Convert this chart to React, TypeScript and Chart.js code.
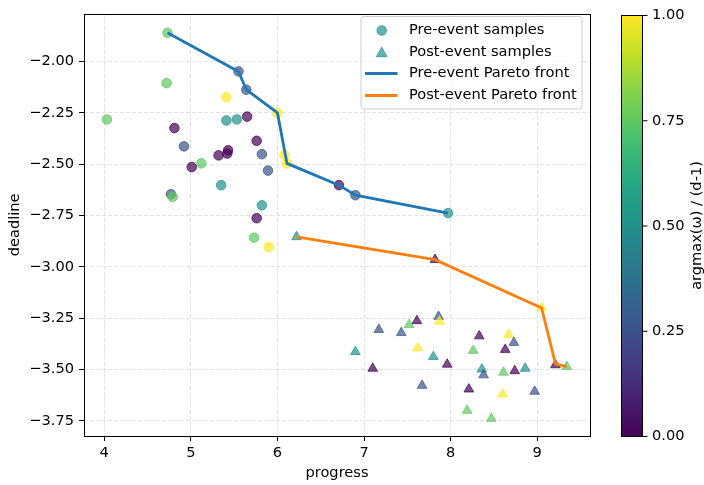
import React, { useEffect, useRef } from 'react';
import { Chart, registerables } from 'chart.js';

Chart.register(...registerables);

// ---------- data ----------
const xTicks = [4, 5, 6, 7, 8, 9];
const yTicks = [-2.0, -2.25, -2.5, -2.75, -3.0, -3.25, -3.5, -3.75];
const cbTicks = [0, 0.25, 0.5, 0.75, 1.0];

const preX = [4.73, 4.72, 4.03, 5.41, 4.81, 5.41, 5.53, 5.65, 5.76, 4.92, 5.43, 5.42, 5.32, 5.82, 5.12, 5.01, 5.89, 5.35, 4.77, 4.79, 5.82, 5.76, 5.73, 5.90, 6.00, 6.08, 6.11, 6.71, 6.90, 5.55, 5.64, 7.97];
const preY = [-1.860, -2.105, -2.282, -2.174, -2.324, -2.287, -2.282, -2.268, -2.386, -2.413, -2.432, -2.448, -2.457, -2.451, -2.496, -2.514, -2.531, -2.602, -2.646, -2.659, -2.700, -2.763, -2.858, -2.903, -2.250, -2.456, -2.496, -2.602, -2.651, -2.048, -2.137, -2.738];
const preC = [0.75, 0.75, 0.75, 1, 0, 0.5, 0.5, 0, 0, 0.25, 0, 0, 0, 0.25, 0.75, 0, 0.25, 0.5, 0.25, 0.75, 0.5, 0, 0.75, 1, 1, 1, 1, 0, 0.25, 0.25, 0.25, 0.5];

const postX = [6.22, 7.82, 6.90, 7.17, 7.10, 7.43, 7.52, 7.61, 7.62, 7.67, 7.80, 7.86, 7.87, 7.96, 8.33, 8.26, 8.21, 8.19, 8.36, 8.38, 8.47, 8.61, 8.60, 8.67, 8.63, 8.73, 8.74, 8.86, 8.97, 9.05, 9.21, 9.34];
const postY = [-2.854, -2.965, -3.414, -3.306, -3.495, -3.321, -3.282, -3.263, -3.395, -3.578, -3.438, -3.242, -3.266, -3.475, -3.337, -3.408, -3.596, -3.700, -3.499, -3.527, -3.739, -3.514, -3.620, -3.330, -3.403, -3.369, -3.507, -3.495, -3.607, -3.200, -3.478, -3.486];
const postC = [0.5, 0, 0.5, 0.25, 0, 0.25, 0.75, 0, 1, 0.25, 0.5, 0.25, 1, 0, 0, 0.75, 0, 0.75, 0.5, 0.25, 0.75, 0.75, 1, 1, 0, 0.25, 0, 0.5, 0.25, 1, 0, 0.75];

const preFrontX = [4.73, 5.55, 5.64, 6.00, 6.11, 6.71, 6.90, 7.97];
const preFrontY = [-1.860, -2.048, -2.137, -2.250, -2.496, -2.602, -2.651, -2.738];
const postFrontX = [6.22, 7.82, 9.05, 9.21, 9.34];
const postFrontY = [-2.854, -2.965, -3.200, -3.473, -3.486];

const legendLabels = ['Pre-event samples', 'Post-event samples', 'Pre-event Pareto front', 'Post-event Pareto front'];

// ---------- styling helpers ----------
const FONT = '"DejaVu Sans", "Liberation Sans", sans-serif';
const FS = 14.6;
const VIRIDIS = ['#440154', '#482475', '#414487', '#355f8d', '#2a788e', '#21918c', '#22a884', '#44bf70', '#7ad151', '#bddf26', '#fde725'];

function hexToRgb(h: string) {
  return [parseInt(h.slice(1, 3), 16), parseInt(h.slice(3, 5), 16), parseInt(h.slice(5, 7), 16)];
}
function viridis(t: number, a = 1) {
  const v = Math.max(0, Math.min(1, t)) * (VIRIDIS.length - 1);
  const i = Math.min(Math.floor(v), VIRIDIS.length - 2);
  const f = v - i;
  const c0 = hexToRgb(VIRIDIS[i]);
  const c1 = hexToRgb(VIRIDIS[i + 1]);
  const c = c0.map((c, k) => Math.round(c + (c1[k] - c) * f));
  return `rgba(${c[0]},${c[1]},${c[2]},${a})`;
}
const fmt = (v: number) => (v < 0 ? '\u2212' : '') + Math.abs(v).toFixed(2);

const overlayPlugin = {
  id: 'overlay',
  afterDraw(chart: any) {
    const ctx = chart.ctx as CanvasRenderingContext2D;
    const ca = chart.chartArea;
    ctx.save();
    // frame (spines)
    ctx.strokeStyle = '#000';
    ctx.lineWidth = 1;
    ctx.strokeRect(Math.round(ca.left) + 0.5, Math.round(ca.top) + 0.5, Math.round(ca.right - ca.left), Math.round(ca.bottom - ca.top));

    // legend
    const lx = 361, ly = 16.5, lw = 221, lh = 92.5, r = 3;
    ctx.beginPath();
    ctx.moveTo(lx + r, ly);
    ctx.lineTo(lx + lw - r, ly);
    ctx.quadraticCurveTo(lx + lw, ly, lx + lw, ly + r);
    ctx.lineTo(lx + lw, ly + lh - r);
    ctx.quadraticCurveTo(lx + lw, ly + lh, lx + lw - r, ly + lh);
    ctx.lineTo(lx + r, ly + lh);
    ctx.quadraticCurveTo(lx, ly + lh, lx, ly + lh - r);
    ctx.lineTo(lx, ly + r);
    ctx.quadraticCurveTo(lx, ly, lx + r, ly);
    ctx.closePath();
    ctx.fillStyle = 'rgba(255,255,255,0.8)';
    ctx.fill();
    ctx.strokeStyle = 'rgba(204,204,204,1)';
    ctx.lineWidth = 1;
    ctx.stroke();

    const rows = [30.5, 52.5, 73.5, 95.5];
    const mx = 381.7;
    const teal = viridis(0.5, 0.7);
    // circle
    ctx.fillStyle = teal;
    ctx.strokeStyle = teal;
    ctx.beginPath();
    ctx.arc(mx, rows[0], 4.8, 0, Math.PI * 2);
    ctx.fill();
    ctx.stroke();
    // triangle
    const tr = 5.6;
    ctx.beginPath();
    ctx.moveTo(mx, rows[1] - tr * 0.95);
    ctx.lineTo(mx + tr * 0.95, rows[1] + tr * 0.75);
    ctx.lineTo(mx - tr * 0.95, rows[1] + tr * 0.75);
    ctx.closePath();
    ctx.fill();
    ctx.stroke();
    // lines
    ctx.lineWidth = 2.8;
    ctx.strokeStyle = '#1f77b4';
    ctx.beginPath();
    ctx.moveTo(365, rows[2]);
    ctx.lineTo(397.5, rows[2]);
    ctx.stroke();
    ctx.strokeStyle = '#ff7f0e';
    ctx.beginPath();
    ctx.moveTo(365, rows[3]);
    ctx.lineTo(397.5, rows[3]);
    ctx.stroke();
    // text
    ctx.fillStyle = '#000';
    ctx.font = `${FS}px ${FONT}`;
    ctx.textAlign = 'left';
    ctx.textBaseline = 'middle';
    legendLabels.forEach((t, i) => ctx.fillText(t, 409, rows[i]));

    // colorbar
    const cbL = 621, cbR = 642, cbT = Math.round(ca.top) + 1, cbB = Math.round(ca.bottom);
    const g = ctx.createLinearGradient(0, cbB, 0, cbT);
    for (let i = 0; i <= 50; i++) g.addColorStop(i / 50, viridis(i / 50));
    ctx.fillStyle = g;
    ctx.fillRect(cbL, cbT, cbR - cbL, cbB - cbT);
    ctx.strokeStyle = '#000';
    ctx.lineWidth = 1;
    ctx.strokeRect(cbL + 0.5, cbT + 0.5, cbR - cbL, cbB - cbT);
    ctx.fillStyle = '#000';
    ctx.textAlign = 'left';
    ctx.textBaseline = 'middle';
    cbTicks.forEach((v) => {
      const y = cbB + 0.5 - v * (cbB - cbT);
      ctx.beginPath();
      ctx.moveTo(cbR + 0.5, y);
      ctx.lineTo(cbR + 5.5, y);
      ctx.stroke();
      ctx.fillText(v.toFixed(2), 652, y);
    });
    ctx.save();
    ctx.translate(697, (cbT + cbB) / 2);
    ctx.rotate(-Math.PI / 2);
    ctx.textAlign = 'center';
    ctx.textBaseline = 'middle';
    ctx.fillText('argmax(\u03c9) / (d-1)', 0, 0);
    ctx.restore();

    ctx.restore();
  },
};

export default function App() {
  const ref = useRef<HTMLCanvasElement | null>(null);
  useEffect(() => {
    if (!ref.current) return;
    const prePts = preX.map((x, i) => ({ x, y: preY[i] }));
    const postPts = postX.map((x, i) => ({ x, y: postY[i] }));
    const preFront = preFrontX.map((x, i) => ({ x, y: preFrontY[i] }));
    const postFront = postFrontX.map((x, i) => ({ x, y: postFrontY[i] }));
    const tickFont = { family: FONT, size: FS };
    const chart = new Chart(ref.current, {
      type: 'scatter',
      data: {
        datasets: [
          {
            label: 'Pre-event Pareto front',
            data: preFront,
            showLine: true,
            borderColor: '#1f77b4',
            borderWidth: 2.8,
            pointRadius: 0,
            fill: false,
          },
          {
            label: 'Post-event Pareto front',
            data: postFront,
            showLine: true,
            borderColor: '#ff7f0e',
            borderWidth: 2.8,
            pointRadius: 0,
            fill: false,
          },
          {
            label: 'Post-event samples',
            data: postPts,
            pointStyle: 'triangle',
            pointRadius: 5.6,
            borderWidth: 1,
            backgroundColor: postC.map((c) => viridis(c, 0.7)),
            borderColor: postC.map((c) => viridis(c, 0.7)),
          },
          {
            label: 'Pre-event samples',
            data: prePts,
            pointStyle: 'circle',
            pointRadius: 4.8,
            borderWidth: 1,
            backgroundColor: preC.map((c) => viridis(c, 0.7)),
            borderColor: preC.map((c) => viridis(c, 0.7)),
          },
        ],
      },
      options: {
        animation: false,
        responsive: false,
        devicePixelRatio: 1,
        layout: { padding: { left: 0, top: 9, right: 114, bottom: 0 } },
        plugins: { legend: { display: false }, tooltip: { enabled: false } },
        scales: {
          x: {
            type: 'linear',
            min: 3.766,
            max: 9.609,
            afterBuildTicks: (s: any) => {
              s.ticks = xTicks.map((v) => ({ value: v }));
            },
            afterFit: (s: any) => {
              s.height = 49;
            },
            grid: { color: '#e2e2e2', lineWidth: 1, tickLength: 5, tickColor: '#000', tickWidth: 1, tickBorderDash: [] },
            border: { display: false, dash: [4, 2] },
            ticks: { color: '#000', font: tickFont, padding: 3, maxRotation: 0, callback: (v: any) => String(v) },
            title: { display: true, text: 'progress', color: '#000', font: tickFont, padding: { top: 0, bottom: 3 } },
          },
          y: {
            type: 'linear',
            min: -3.824,
            max: -1.767,
            afterBuildTicks: (s: any) => {
              s.ticks = yTicks.map((v) => ({ value: v }));
            },
            afterFit: (s: any) => {
              s.width = 84;
            },
            grid: { color: '#e2e2e2', lineWidth: 1, tickLength: 5, tickColor: '#000', tickWidth: 1, tickBorderDash: [] },
            border: { display: false, dash: [4, 2] },
            ticks: { color: '#000', font: tickFont, padding: 5, callback: (v: any) => fmt(Number(v)) },
            title: { display: true, text: 'deadline', color: '#000', font: tickFont, padding: { top: 6, bottom: 0 } },
          },
        },
      },
      plugins: [overlayPlugin],
    } as any);
    return () => chart.destroy();
  }, []);
  return (
    <div style={{ position: 'absolute', left: 0, top: 0, width: 704, height: 485, background: '#fff' }}>
      <canvas ref={ref} width={704} height={485} style={{ width: 704, height: 485, display: 'block' }} />
    </div>
  );
}
